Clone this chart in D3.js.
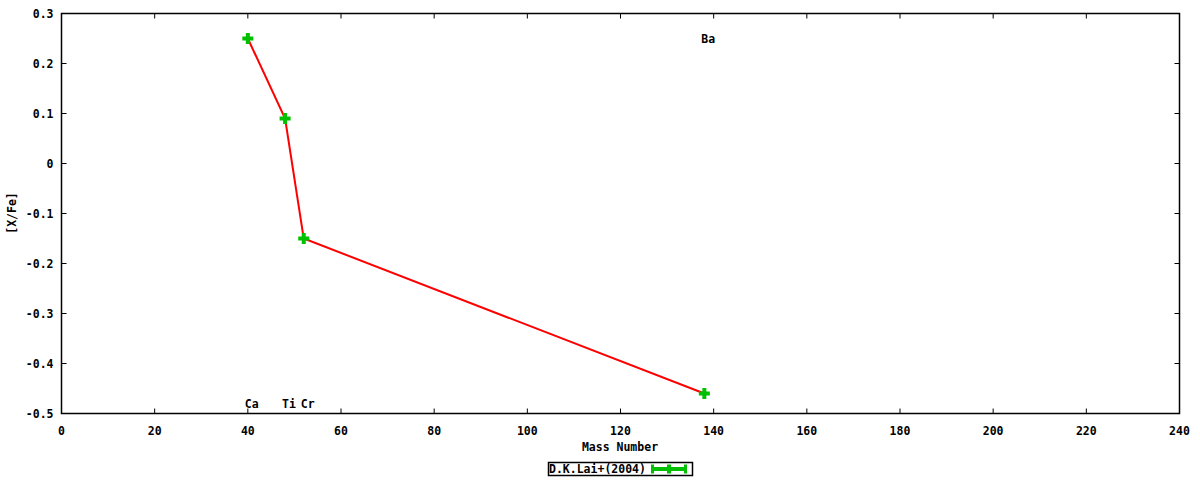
<!DOCTYPE html>
<html><head><meta charset="utf-8">
<script src="https://cdn.jsdelivr.net/npm/d3@7"></script>
<style>body{margin:0;background:#fff}svg{display:block}text{font-family:"DejaVu Sans Mono",monospace;font-weight:bold;font-size:11.5px;fill:#000}</style>
</head><body><svg id="c" width="1200" height="480"></svg>
<script>
const elements = ["Ca","Ti","Cr","Ba"];
const massNumbers = [40,48,52,138];
const xFe = [0.25,0.09,-0.15,-0.46];
const labelX = [40,48,52,138];
const labelY = [-0.48,-0.48,-0.48,0.25];
const xTicks = [0,20,40,60,80,100,120,140,160,180,200,220,240];
const yTicks = [-0.5,-0.4,-0.3,-0.2,-0.1,0,0.1,0.2,0.3];
const seriesName = "D.K.Lai+(2004)";

const svg = d3.select("#c");
const L=61.5,R=1179.5,T=13.5,B=413.5;
const x = d3.scaleLinear().domain([0,240]).range([L,R]);
const y = d3.scaleLinear().domain([-0.5,0.3]).range([B,T]);
const fmt = d => d===0 ? "0" : d3.format(".1f")(d).replace("−","-");
const green = "#00c000";

const g = svg.append("g");
xTicks.forEach(t=>{
  g.append("line").attr("x1",x(t)).attr("x2",x(t)).attr("y1",B).attr("y2",B-5).attr("stroke","#000");
  g.append("line").attr("x1",x(t)).attr("x2",x(t)).attr("y1",T).attr("y2",T+5).attr("stroke","#000");
  g.append("text").attr("x",x(t)).attr("y",B+21).attr("text-anchor","middle").text(t);
});
yTicks.forEach(t=>{
  g.append("line").attr("x1",L).attr("x2",L+5).attr("y1",y(t)).attr("y2",y(t)).attr("stroke","#000");
  g.append("line").attr("x1",R).attr("x2",R-5).attr("y1",y(t)).attr("y2",y(t)).attr("stroke","#000");
  g.append("text").attr("x",L-8).attr("y",y(t)+4).attr("text-anchor","end").text(fmt(t));
});
svg.append("rect").attr("x",L).attr("y",T).attr("width",R-L).attr("height",B-T)
  .attr("fill","none").attr("stroke","#000").attr("stroke-width",1.5);

const pts = massNumbers.map((m,i)=>[m,xFe[i]]);
svg.append("path").datum(pts).attr("fill","none").attr("stroke","#ff0000").attr("stroke-width",2)
  .attr("d",d3.line().x(d=>x(d[0])).y(d=>y(d[1])));
const cross = (sel,cx,cy,s,w)=>{
  sel.append("line").attr("x1",cx-s).attr("x2",cx+s).attr("y1",cy).attr("y2",cy).attr("stroke",green).attr("stroke-width",w);
  sel.append("line").attr("x1",cx).attr("x2",cx).attr("y1",cy-s).attr("y2",cy+s).attr("stroke",green).attr("stroke-width",w);
};
pts.forEach(p=>cross(svg,x(p[0]),y(p[1]),5.5,4));

elements.forEach((e,i)=>{
  svg.append("text").attr("x",x(labelX[i])-3).attr("y",y(labelY[i])+4).text(e);
});

svg.append("text").attr("x",620).attr("y",451).attr("text-anchor","middle").text("Mass Number");
svg.append("text").attr("transform","translate(16,213) rotate(-90)").attr("text-anchor","middle").text("[X/Fe]");

svg.append("rect").attr("x",548.5).attr("y",462.5).attr("width",144).attr("height",13).attr("fill","none").attr("stroke","#000").attr("stroke-width",1.5);
svg.append("text").attr("x",549).attr("y",473).text(seriesName);
const lg = svg.append("g");
lg.append("line").attr("x1",652).attr("x2",686).attr("y1",469).attr("y2",469).attr("stroke",green).attr("stroke-width",4);
[652.5,685.5].forEach(xx=>lg.append("line").attr("x1",xx).attr("x2",xx).attr("y1",464.5).attr("y2",473.5).attr("stroke",green).attr("stroke-width",3));
cross(lg,669,469,4.5,4);
</script></body></html>
